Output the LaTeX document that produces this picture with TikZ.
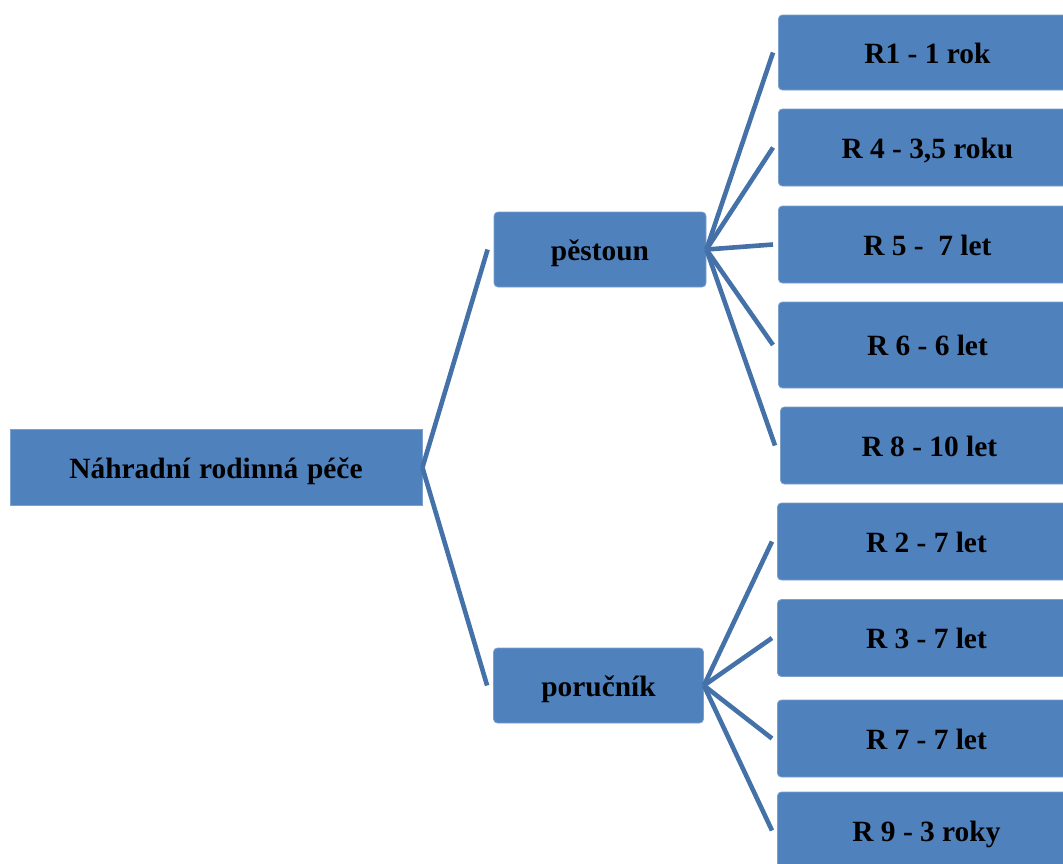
\documentclass[tikz,border=0pt]{standalone}
\usepackage{fontspec}
\setmainfont{Liberation Serif}
\usetikzlibrary{positioning}
\definecolor{boxblue}{RGB}{79,129,189}
\definecolor{lineblue}{RGB}{68,114,168}

\begin{document}
\begin{tikzpicture}[x=.5pt,y=-.5pt,
    box/.style={fill=boxblue,draw=boxblue!75!white,line width=.4pt,rounded corners=2pt,
      text=black,font=\bfseries,inner sep=0pt,minimum height=38.5pt,text height=.72em,text depth=0pt},
    leaf/.style={box,anchor=west,minimum width=149pt},
    twig/.style={color=lineblue,line width=2.3pt}]
      \fontsize{14.7}{18}\selectfont
      \useasboundingbox (0,0) rectangle (1063,863);
      \clip (0,0) rectangle (1063,863);
      \node[box,rounded corners=0pt,minimum width=206pt,minimum height=38pt] (k_0) at (216,467.5) {Náhradní\hspace{.3em}rodinná\hspace{.3em}péče};
      \node[box,minimum width=106pt,minimum height=37.5pt] (k_p) at (600,249.5) {pěstoun};
      \node[box,minimum width=105pt,minimum height=37.5pt] (k_u) at (598.5,685.5) {poručník};
      \node[leaf,minimum height=37.5pt] (r_1) at (778,52.5) {R1 - 1 rok};
      \node[leaf] (r_4) at (778,147.5) {R 4 - 3,5 roku};
      \node[leaf] (r_5) at (778,244.5) {R 5 -\ \ 7 let};
      \node[leaf,minimum height=43pt] (r_6) at (778,345) {R 6 - 6 let};
      \node[leaf] (r_8) at (780,445.5) {R 8 - 10 let};
      \node[leaf] (r_2) at (777,541.5) {R 2 - 7 let};
      \node[leaf] (r_3) at (777,638) {R 3 - 7 let};
      \node[leaf] (r_7) at (777,738.5) {R 7 - 7 let};
      \node[leaf] (r_9) at (777,830.5) {R 9 - 3 roky};
      \path[twig]
      (k_0.east) edge ([xshift=-3pt]k_p.west)
      (k_0.east) edge ([xshift=-3pt]k_u.west)
      (k_p.east) edge ([xshift=-2.5pt]r_1.west)
      (k_p.east) edge ([xshift=-2.5pt]r_4.west)
      (k_p.east) edge ([xshift=-2.5pt]r_5.west)
      (k_p.east) edge ([xshift=-2.5pt]r_6.west)
      (k_p.east) edge ([xshift=-2.5pt]r_8.west)
      (k_u.east) edge ([xshift=-2.5pt]r_2.west)
      (k_u.east) edge ([xshift=-2.5pt]r_3.west)
      (k_u.east) edge ([xshift=-2.5pt]r_7.west)
      (k_u.east) edge ([xshift=-2.5pt]r_9.west)
      ; %end path
\end{tikzpicture}
\end{document}
